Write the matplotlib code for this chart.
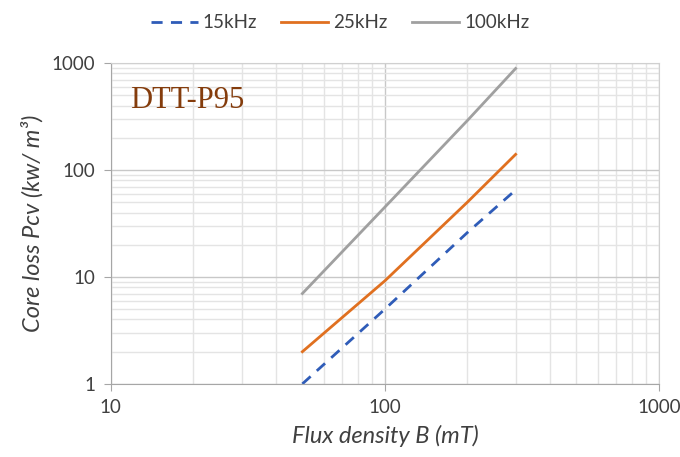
import matplotlib.pyplot as plt
import numpy as np

# flux density (mT) and core loss (kW/m3)
b_mt = [50, 100, 200, 300]
loss_15k = [1.0, 5.0, 26, 65]
loss_25k = [2.0, 9.2, 50, 140]
loss_100k = [7.0, 45, 290, 890]

plt.rcParams['font.family'] = ['Lato', 'DejaVu Sans']

fig = plt.figure(figsize=(6.8, 4.57), dpi=100)
ax = fig.add_axes([0.163, 0.160, 0.806, 0.702])

ax.plot(b_mt, loss_15k, color="#2f5cb8", lw=2, ls=(0, (4, 3)), label="15kHz")
ax.plot(b_mt, loss_25k, color="#e07020", lw=2, label="25kHz")
ax.plot(b_mt, loss_100k, color="#a0a0a0", lw=2, label="100kHz")

ax.set_xscale('log')
ax.set_yscale('log')
ax.set_xlim(10, 1000)
ax.set_ylim(1, 1000)
ax.set_xticks([10, 100, 1000])
ax.set_xticklabels(["10", "100", "1000"])
ax.set_yticks([1, 10, 100, 1000])
ax.set_yticklabels(["1", "10", "100", "1000"])

ax.grid(True, which='minor', color="#e4e4e4", lw=1)
ax.grid(True, which='major', color="#c8c8c8", lw=1)
ax.set_axisbelow(True)
ax.tick_params(which='minor', length=0)
ax.tick_params(which='major', length=5, color="#a6a6a6", labelsize=13.5,
               labelcolor="#404040", pad=6)

for s in ["top", "right"]:
    ax.spines[s].set_color("#d0d0d0")
for s in ["left", "bottom"]:
    ax.spines[s].set_color("#a6a6a6")

ax.set_xlabel("Flux density B (mT)", fontsize=17, style='italic',
              color="#404040", labelpad=6)
ax.set_ylabel("Core loss Pcv (kw/ m³)", fontsize=17, style='italic',
              color="#404040", labelpad=6)

ax.text(0.035, 0.93, "DTT-P95", transform=ax.transAxes, fontsize=22,
        family="Liberation Serif", color="#843c0c", va='top')

fig.legend(loc='center', bbox_to_anchor=(0.5, 1 - 23 / 457), ncol=3,
           frameon=False, fontsize=13.5, handlelength=2.5, columnspacing=1.3,
           handletextpad=0.27, labelcolor="#404040")

fig.savefig("out.png", dpi=100)
